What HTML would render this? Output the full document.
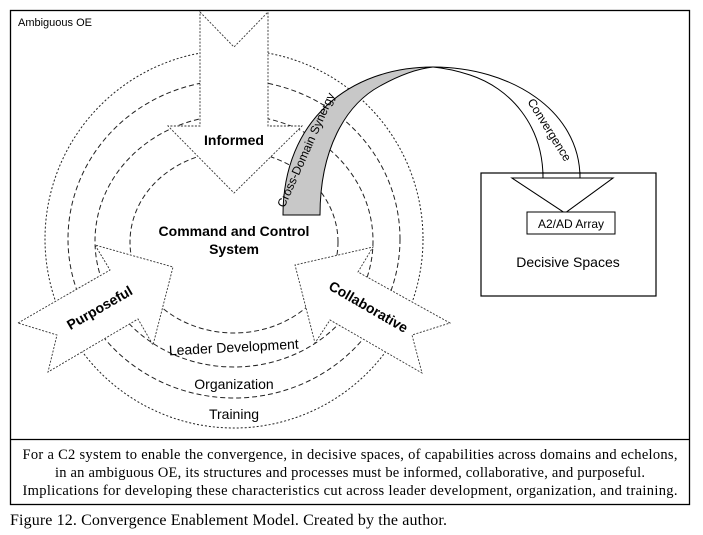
<!DOCTYPE html>
<html><head><meta charset="utf-8"><style>
body{margin:0;background:#fff;}
svg{display:block;}
</style></head><body>
<svg width="703" height="535" viewBox="0 0 703 535" xmlns="http://www.w3.org/2000/svg" font-family="Liberation Sans, Arial, sans-serif">
<rect x="0" y="0" width="703" height="535" fill="#fff"/>
<rect x="10.5" y="10.5" width="679" height="494" fill="none" stroke="#000" stroke-width="1.3"/>
<line x1="10" y1="439.5" x2="690" y2="439.5" stroke="#000" stroke-width="1.3"/>
<text x="18" y="26" font-size="11">Ambiguous OE</text>

<g fill="none" stroke="#222" stroke-width="1">
<ellipse cx="234" cy="239" rx="189" ry="189" stroke-dasharray="2,2"/>
<ellipse cx="234" cy="239" rx="166" ry="159" stroke-dasharray="5,3"/>
<ellipse cx="234" cy="241" rx="139" ry="126" stroke-dasharray="5,3"/>
<ellipse cx="234" cy="242" rx="104" ry="91" stroke-dasharray="5,3"/>
</g>

<g fill="#fff" stroke="#333" stroke-width="0.9" stroke-dasharray="2,1.5">
<polygon points="200,12 234,47 268,12 268,126 302,126 234,193 168,126 200,126"/>
<polygon points="18,323 110,270 95,245 173,267 153,345 138,319 48,372 57,335"/>
<polygon points="450,323 358,272 373,247 295,265 315,343 330,320 422,373 412,335"/>
</g>
<text x="234" y="145" font-size="14" font-weight="bold" text-anchor="middle">Informed</text>
<text transform="translate(102,312) rotate(-30)" font-size="14" font-weight="bold" text-anchor="middle">Purposeful</text>
<text transform="translate(366,311) rotate(30)" font-size="14" font-weight="bold" text-anchor="middle">Collaborative</text>

<text x="234" y="236" font-size="14" font-weight="bold" text-anchor="middle">Command and Control</text>
<text x="234" y="254" font-size="14" font-weight="bold" text-anchor="middle">System</text>

<text x="234" y="352" font-size="14" text-anchor="middle" transform="rotate(-3 234 352)">Leader Development</text>
<text x="234" y="389" font-size="14" text-anchor="middle">Organization</text>
<text x="234" y="419" font-size="14" text-anchor="middle">Training</text>

<path d="M283,215 C283,120 350,67 433,67 C415,69 398,76 380,86 C345,105 320,150 320,215 Z" fill="#c8c8c8" stroke="#000" stroke-width="1"/>
<path d="M433,67 C510,67 580,110 580,178 L613,178 L565,213 L512,178 L543,178 C543,125 510,88 470,75 C455,70 443,68 433,67 Z" fill="#fff" stroke="#000" stroke-width="1"/>
<text transform="translate(306,150) rotate(-66)" font-size="12" text-anchor="middle" dy="4">Cross-Domain Synergy</text>
<text transform="translate(546,132) rotate(58)" font-size="12" text-anchor="middle">Convergence</text>

<rect x="481" y="173" width="175" height="123" fill="none" stroke="#000" stroke-width="1.2"/>
<path d="M512,178 L613,178 L565,213 Z" fill="#fff" stroke="#000" stroke-width="1"/>
<path d="M543,172 L543,178 M580,172 L580,178" stroke="#000" stroke-width="1"/>
<rect x="527" y="212" width="88" height="22" fill="#fff" stroke="#000" stroke-width="1"/>
<text x="571" y="228" font-size="12" text-anchor="middle">A2/AD Array</text>
<text x="568" y="267" font-size="14" text-anchor="middle">Decisive Spaces</text>

<g font-family="Liberation Serif, Times New Roman, serif" font-size="14.5" text-anchor="middle">
<text x="350" y="459" textLength="655" lengthAdjust="spacing">For a C2 system to enable the convergence, in decisive spaces, of capabilities across domains and echelons,</text>
<text x="350" y="477" textLength="590" lengthAdjust="spacing">in an ambiguous OE, its structures and processes must be informed, collaborative, and purposeful.</text>
<text x="350" y="495" textLength="655" lengthAdjust="spacing">Implications for developing these characteristics cut across leader development, organization, and training.</text>
</g>
<text x="10" y="525" font-family="Liberation Serif, Times New Roman, serif" font-size="16" textLength="437" lengthAdjust="spacing">Figure 12. Convergence Enablement Model. Created by the author.</text>
</svg>
</body></html>
